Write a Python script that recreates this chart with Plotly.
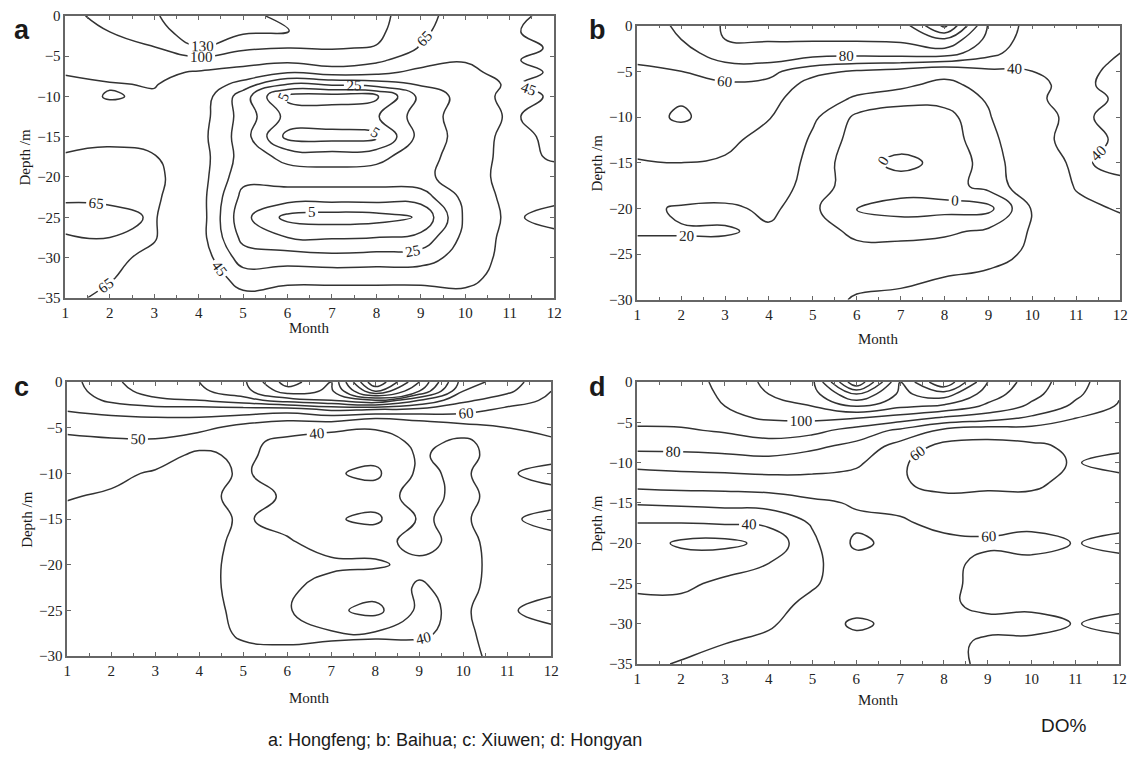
import numpy as np
import plotly.graph_objects as go

months = list(range(1, 13))

# ---- Hongfeng (a): DO% profiles, one list per month (surface -> bottom) ----
depth_a = [0, -2, -4, -5.5, -7, -8.5, -10, -12.5, -15, -17.5, -20, -22.5, -25, -27.5, -30, -32.5, -35]
hongfeng = [
    [95, 92, 85, 75, 66, 62, 60, 58, 61, 66, 70, 67, 60, 66, 70, 70, 68],
    [106, 100, 90, 80, 70, 64, 66, 60, 63, 67, 71, 67, 62, 65, 68, 66, 62],
    [126, 116, 98, 85, 72, 66, 63, 60, 59, 66, 70, 68, 66, 66, 62, 58, 55],
    [158, 150, 128, 90, 62, 55, 52, 50, 49, 50, 50, 50, 51, 50, 52, 54, 56],
    [142, 134, 106, 76, 55, 40, 30, 31, 30, 31, 28, 22, 18, 22, 30, 40, 48],
    [118, 132, 100, 70, 46, 25, 2, 12, 2, 22, 30, 20, 2, 15, 30, 42, 50],
    [126, 118, 102, 82, 50, 27, 0, 12, 1, 20, 30, 20, 0, 14, 28, 42, 50],
    [112, 108, 98, 70, 48, 30, 3, 14, 3, 22, 30, 20, 1, 15, 29, 42, 50],
    [75, 70, 62, 50, 42, 36, 28, 30, 29, 31, 32, 20, 6, 18, 30, 42, 50],
    [50, 48, 47, 45.5, 43, 41, 39, 40, 39, 40, 41, 38, 37, 38, 40, 43, 47],
    [47, 46, 48, 46, 48, 46, 48, 46, 48, 48, 48, 48, 47, 48, 48, 48, 48],
    [43, 42, 44, 42, 44, 42, 44, 42, 43, 44, 48, 48, 41, 48, 48, 48, 48],
]

# ---- Baihua (b) ----
depth_b = [0, -1.5, -3, -4, -5, -6.5, -8, -10, -12.5, -15, -17.5, -20, -22.5, -25, -27.5, -30]
baihua = [
    [68, 67, 65, 61, 57, 55, 54, 52, 45, 39, 32, 24, 21, 16, 15, 14],
    [84, 80, 74, 67, 60, 57, 58, 63, 50, 40, 32, 18, 21, 16, 15, 14],
    [102, 100, 88, 80, 66, 58, 54, 50, 44, 38, 30, 17, 21, 16, 15, 14],
    [104, 102, 90, 81, 66, 54, 46, 41, 34, 30, 27, 23, 18, 15, 14, 14],
    [106, 102, 88, 70, 46, 32, 28, 22, 18, 16, 15, 12, 14, 15, 15, 16],
    [106, 102, 88, 64, 38, 26, 18, 8, 6, 4, 5, -0.5, 8, 13, 17, 21],
    [108, 103, 90, 62, 32, 22, 15, 3, 5, -3, 5, -4, 7, 14, 18, 22],
    [165, 118, 90, 58, 24, 17, 14, 6, 5, 3, 5, -3, 8, 16, 20, 24],
    [78, 74, 66, 52, 36, 24, 21, 19, 16, 14, 14, -3, 12, 18, 21, 24],
    [52, 50, 47, 44, 40, 37, 36, 34, 32, 30, 27, 21, 21, 21, 24, 27],
    [46, 46, 45, 46, 45, 44, 48, 44, 48, 43, 41, 37, 34, 31, 29, 27],
    [42, 42, 40, 38, 36, 35, 37, 34, 37, 35, 44, 41, 36, 32, 30, 28],
]

# ---- Xiuwen (c) ----
depth_c = [0, -1, -2, -3, -4, -5, -6.5, -8, -10, -12.5, -15, -17.5, -20, -22.5, -25, -27.5, -30]
xiuwen = [
    [66, 65, 63, 61, 56, 52, 48, 46, 43, 40.5, 38, 37, 37, 37, 37, 37, 37],
    [78, 76, 72, 64, 58, 53, 49, 45, 42, 39, 37, 37, 37, 37, 37, 37, 37],
    [86, 84, 78, 66, 59, 54, 49, 44, 39, 37, 37, 37, 37, 37, 37, 37, 37],
    [90, 88, 80, 66, 59, 53, 44, 38, 37, 37, 37, 37, 37, 37, 37, 37, 37],
    [98, 96, 86, 66, 56, 46, 42, 42, 41, 43, 41, 42, 43, 43, 42, 41, 38],
    [125, 115, 95, 65, 52, 44, 38, 36, 36, 39, 37, 41, 43, 42, 41, 42, 38],
    [110, 108, 100, 72, 54, 42, 36, 34, 31, 35, 31, 36, 42, 36, 32, 41, 38],
    [170, 150, 110, 70, 50, 41, 34, 33, 28, 35, 28, 37, 41, 35, 27, 41, 37],
    [130, 120, 90, 68, 52, 44, 43, 41, 42, 44, 41, 43, 38, 41, 42, 41, 37],
    [85, 80, 72, 64, 55, 46, 38, 37, 38, 37, 38, 37, 37, 37, 38, 38, 37],
    [75, 72, 65, 58, 53, 50, 46, 45, 49, 45, 49, 45, 44, 45, 49, 45, 44],
    [62, 60, 58, 56, 54, 52, 49, 47, 53, 47, 52, 48, 47, 48, 53, 48, 47],
]

# ---- Hongyan (d) ----
depth_d = [0, -1.5, -3, -4.5, -6, -8, -10, -12.5, -15, -17.5, -20, -22.5, -25, -27.5, -30, -32.5, -35]
hongyan = [
    [95, 94, 93, 92, 89, 83, 73, 64, 51, 40, 36, 37, 39, 41, 43, 45, 47],
    [93, 93, 94, 93, 89, 83, 74, 65, 52, 40, 28, 36, 39, 41, 43, 46, 51],
    [104, 102, 100, 98, 91, 84, 75, 65, 53, 41, 27, 38, 41, 44, 47, 50, 53],
    [112, 110, 106, 101, 94, 86, 76, 66, 54, 42, 33, 40, 44, 47, 49, 52, 55],
    [118, 116, 110, 102, 93, 82, 74, 67, 58, 51, 48, 48, 49, 52, 54, 55, 56],
    [170, 140, 120, 100, 86, 77, 72, 65, 61, 58, 62, 56, 55, 55, 62, 56, 55],
    [120, 118, 112, 95, 78, 66, 61, 61, 62, 59, 57, 57, 57, 57, 57, 57, 57],
    [150, 125, 108, 88, 68, 57, 56, 57, 63, 62, 58, 57, 57, 58, 57, 57, 57],
    [110, 105, 98, 84, 64, 57, 56, 58, 63, 64, 58, 63, 64, 63, 57, 62, 62],
    [95, 93, 88, 78, 66, 58, 58, 58, 63, 63, 56, 63, 63, 63, 56, 63, 63],
    [84, 82, 78, 70, 64, 62, 60.5, 63, 62, 62, 60.5, 62, 62, 62, 60.5, 62, 62],
    [72, 71, 69, 67, 64, 62, 57, 63, 63, 63, 57, 63, 63, 63, 57, 63, 63],
]

# contour levels: (start, end, step, labelled)
levels_a = [(15, 35, 20, False), (5, 65, 20, True), (100, 100, 30, True), (130, 130, 30, True)]
levels_b = [(10, 10, 10, False), (0, 80, 20, True), (100, 160, 20, False)]
levels_c = [(30, 60, 10, True), (70, 170, 10, False)]
levels_d = [(30, 30, 10, False), (50, 90, 20, False), (40, 100, 20, True), (110, 170, 10, False)]

LINE = "#333333"
SERIF = "Liberation Serif"
SANS = "Liberation Sans"
W, H = 1143, 767

panels = [
    # letter, data, depths, levels, plot x-span px, plot y-span px, deepest depth, "Month" y px
    ("a", hongfeng, depth_a, levels_a, (62, 556), (8, 296), -35, 327),
    ("b", baihua, depth_b, levels_b, (640, 1128), (18, 298), -30, 338),
    ("c", xiuwen, depth_c, levels_c, (64, 553), (382, 662), -30, 705),
    ("d", hongyan, depth_d, levels_d, (640, 1127), (382, 670), -35, 707),
]
letter_pos = {"a": (18, 22), "b": (600, 22), "c": (18, 387), "d": (600, 387)}


def note(text, px, py, size, family=SERIF, angle=0, bold=False):
    return dict(text=("<b>%s</b>" % text) if bold else text,
                x=px / W, y=1 - py / H, xref="paper", yref="paper",
                xanchor="center", yanchor="middle", showarrow=False, textangle=angle,
                font=dict(family=family, size=size, color="#1a1a1a"))


fig = go.Figure()
layout = {}
annotations = []

for i, (letter, data, depths, levels, (x0, x1), (y0, y1), dmin, month_y) in enumerate(panels):
    k = "" if i == 0 else str(i + 1)
    z = np.array(data, dtype=float).T[::-1]   # rows: depth ascending
    y = depths[::-1]
    for (s, e, step, lab) in levels:
        fig.add_trace(go.Contour(
            x=months, y=y, z=z,
            contours=dict(coloring="none", start=s, end=e, size=step,
                          showlabels=lab,
                          labelfont=dict(family=SERIF, size=15, color="#222")),
            line=dict(color=LINE, width=1.5, smoothing=1.3),
            showscale=False, hoverinfo="skip",
            xaxis="x" + k, yaxis="y" + k,
        ))
    axis_common = dict(showline=True, linecolor="#666", linewidth=1.5, mirror="ticks",
                       ticks="inside", tickcolor="#666", showgrid=False, zeroline=False,
                       tickfont=dict(family=SERIF, size=15, color="#222"))
    layout["xaxis" + k] = dict(axis_common, domain=[x0 / W, x1 / W], range=[1, 12],
                               tickmode="linear", tick0=1, dtick=1, ticklen=4,
                               minor=dict(dtick=0.5, tick0=1, ticks="inside", ticklen=3, tickcolor="#666"),
                               anchor="y" + k)
    layout["yaxis" + k] = dict(axis_common, domain=[1 - y1 / H, 1 - y0 / H], range=[dmin, 0],
                               tickmode="linear", tick0=0, dtick=5, ticklen=4,
                               anchor="x" + k)
    lx, ly = letter_pos[letter]
    annotations.append(note(letter, lx, ly, 27, family=SANS, bold=True))
    annotations.append(note("Depth /m", x0 - 41, (y0 + y1) / 2, 15, angle=-90))
    annotations.append(note("Month", (x0 + x1) / 2, month_y, 15))

annotations.append(note("DO%", 1071, 733, 19, family=SANS))
annotations.append(note("a: Hongfeng; b: Baihua; c: Xiuwen; d: Hongyan", 456, 748, 18, family=SANS))

fig.update_layout(width=W, height=H, margin=dict(l=0, r=0, t=0, b=0),
                  paper_bgcolor="white", plot_bgcolor="white", showlegend=False,
                  annotations=annotations, **layout)

fig.write_html("out.html")
